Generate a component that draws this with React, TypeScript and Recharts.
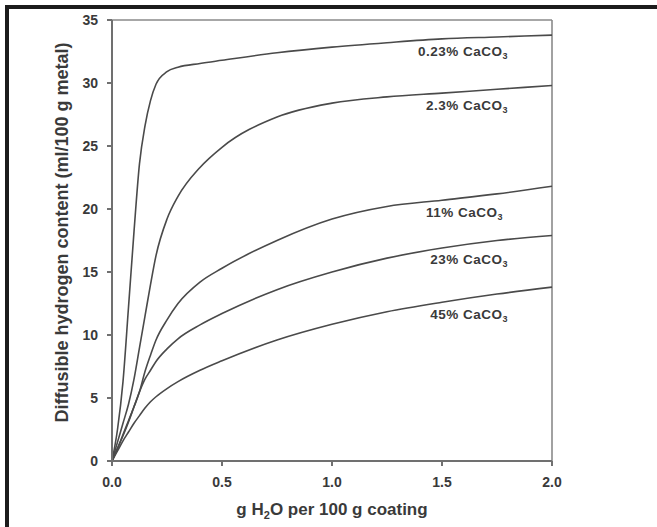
import React from "react";
import { LineChart, Line, XAxis, YAxis, ReferenceLine, ReferenceDot, Label } from "recharts";

const waterContent = [0, 0.025, 0.05, 0.075, 0.1, 0.125, 0.15, 0.175, 0.2, 0.25, 0.3, 0.4, 0.5, 0.75, 1.0, 1.25, 1.5, 1.75, 2.0];

const caco3_023 = [0, 2.5, 6.3, 12.2, 18.2, 23.6, 26.6, 28.6, 29.9, 30.9, 31.25, 31.55, 31.8, 32.4, 32.85, 33.2, 33.5, 33.65, 33.8];
const caco3_23 = [0, 1.5, 3.0, 4.5, 6.5, 9.0, 11.5, 14.0, 16.3, 19.2, 21.0, 23.3, 24.9, 27.3, 28.4, 28.9, 29.2, 29.5, 29.8];
const caco3_11 = [0, 1.0, 2.1, 3.2, 4.3, 5.5, 7.1, 8.4, 9.6, 11.2, 12.5, 14.2, 15.3, 17.5, 19.2, 20.2, 20.7, 21.2, 21.8];
const caco3_23pct = [0, 1.0, 2.0, 3.1, 4.3, 5.5, 6.5, 7.2, 7.9, 8.9, 9.7, 10.8, 11.7, 13.6, 15.0, 16.1, 16.9, 17.5, 17.9];
const caco3_45 = [0, 0.8, 1.6, 2.3, 3.0, 3.6, 4.2, 4.7, 5.1, 5.75, 6.3, 7.2, 7.95, 9.6, 10.85, 11.85, 12.6, 13.25, 13.8];

const seriesKeys = ["s0", "s1", "s2", "s3", "s4"];
const seriesValues = [caco3_023, caco3_23, caco3_11, caco3_23pct, caco3_45];
const seriesNames = ["0.23%", "2.3%", "11%", "23%", "45%"];
// where each curve's tag sits (data units, right edge of text)
const tagX = [1.8, 1.8, 1.777, 1.8, 1.8];
const tagY = [32.5, 28.2, 19.7, 16.0, 11.6];

const yTicks = [0, 5, 10, 15, 20, 25, 30, 35];
const xTicks = [0, 0.5, 1.0, 1.5, 2.0];

const rows = waterContent.map((x, i) => {
  const row: Record<string, number> = { x };
  seriesKeys.forEach((k, j) => (row[k] = seriesValues[j][i]));
  return row;
});

const font = "'Liberation Sans', Arial, Helvetica, sans-serif";
const ink = "#3a3a3a";
const axisGrey = "#707070";

function CurveTag({ viewBox, name }: any) {
  const x = viewBox.x;
  const y = viewBox.y + 4.5;
  return (
    <text x={x} y={y} textAnchor="end" fontFamily={font} fontSize={13.5} fontWeight="bold" fill={ink} letterSpacing={0.5}>
      {`${name} CaCO`}
      <tspan fontSize={9} dy={3}>3</tspan>
    </text>
  );
}

function YTitle({ viewBox }: any) {
  const cx = viewBox.x + 62;
  const cy = viewBox.y + viewBox.height / 2 - 8;
  return (
    <text
      x={cx}
      y={cy}
      transform={`rotate(-90 ${cx} ${cy})`}
      textAnchor="middle"
      dominantBaseline="central"
      fontFamily={font}
      fontSize={18}
      fontWeight="bold"
      fill={ink}
    >
      Diffusible hydrogen content (ml/100 g metal)
    </text>
  );
}

function XTitle({ viewBox }: any) {
  const cx = viewBox.x + viewBox.width / 2;
  const by = viewBox.y + 54;
  return (
    <text x={cx} y={by} textAnchor="middle" fontFamily={font} fontSize={17} fontWeight="bold" fill={ink}>
      g H<tspan fontSize={11} dy={4}>2</tspan>
      <tspan dy={-4}>O per 100 g coating</tspan>
    </text>
  );
}

export default function App() {
  return (
    <div style={{ position: "absolute", left: 0, top: 0, width: 657, height: 527, background: "#fff", fontFamily: font }}>
      <div
        style={{
          position: "absolute",
          left: 5,
          top: 5,
          right: 0,
          bottom: 0,
          borderTop: "4px solid #1c1c1c",
          borderLeft: "4px solid #1c1c1c",
        }}
      />
      <div style={{ position: "absolute", left: 0, top: 0 }}>
        <LineChart width={657} height={527} data={rows} margin={{ top: 20, right: 105, bottom: 16, left: 0 }}>
          <XAxis
            type="number"
            dataKey="x"
            domain={[0, 2]}
            ticks={xTicks}
            interval={0}
            tickFormatter={(v) => Number(v).toFixed(1)}
            height={50}
            tickSize={5}
            tickMargin={11}
            stroke={axisGrey}
            strokeWidth={2}
            tick={{ fill: ink, fontSize: 14, fontWeight: "bold", fontFamily: font }}
          >
            <Label content={<XTitle />} />
          </XAxis>
          <YAxis
            type="number"
            domain={[0, 35]}
            ticks={yTicks}
            interval={0}
            width={112}
            tickSize={5}
            tickMargin={9}
            stroke={axisGrey}
            strokeWidth={2}
            tick={{ fill: ink, fontSize: 14, fontWeight: "bold", fontFamily: font }}
          >
            <Label content={<YTitle />} />
          </YAxis>
          <ReferenceLine y={35} stroke="#8a8a8a" strokeWidth={1.6} />
          <ReferenceLine x={2} stroke="#8a8a8a" strokeWidth={1.6} />
          {seriesKeys.map((k) => (
            <Line
              key={k}
              type="monotone"
              dataKey={k}
              stroke="#4a4a4a"
              strokeWidth={1.6}
              dot={false}
              activeDot={false}
              isAnimationActive={false}
            />
          ))}
          {seriesNames.map((name, i) => (
            <ReferenceDot
              key={name}
              x={tagX[i]}
              y={tagY[i]}
              r={0}
              fill="none"
              stroke="none"
              label={<CurveTag name={name} />}
            />
          ))}
        </LineChart>
      </div>
    </div>
  );
}
